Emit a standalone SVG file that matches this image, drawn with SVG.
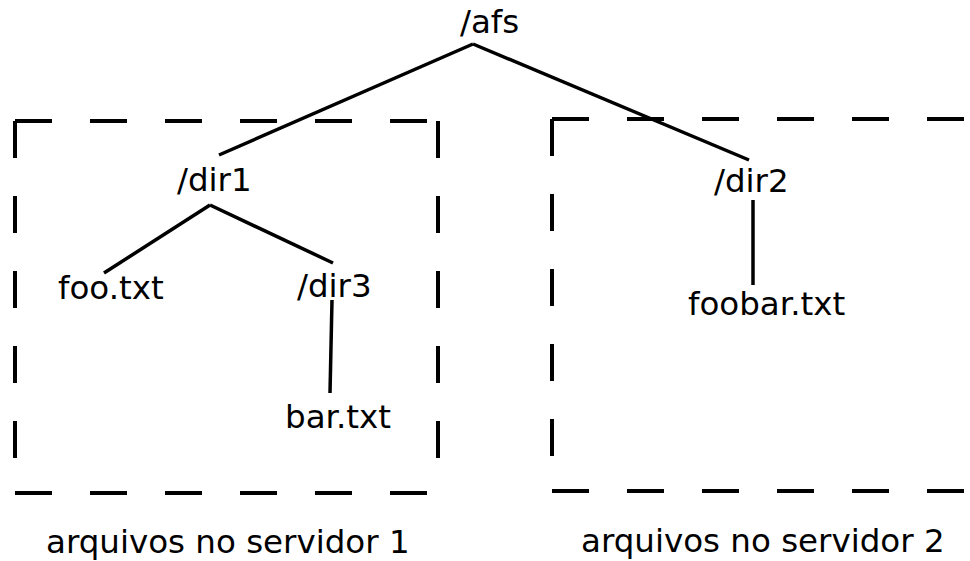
<svg xmlns="http://www.w3.org/2000/svg" width="970" height="561" viewBox="0 0 970 561">
  <style>
    .label { font-family: "DejaVu Sans", "Liberation Sans", sans-serif; font-size: 32.5px; fill: #000; }
    .edge { stroke: #000; stroke-width: 3.5; fill: none; }
    .box { stroke: #000; stroke-width: 4; fill: none; stroke-dasharray: 37 38; }
  </style>
  <rect width="970" height="561" fill="#fff"/>

  <!-- server regions -->
  <g id="server1">
    <line class="box" x1="15" y1="121" x2="438" y2="121"/>
    <line class="box" x1="15" y1="493" x2="438" y2="493"/>
    <line class="box" x1="15" y1="121" x2="15" y2="493"/>
    <line class="box" x1="438" y1="121" x2="438" y2="493"/>
    <text class="label" x="46" y="553">arquivos no servidor 1</text>
  </g>
  <g id="server2">
    <line class="box" x1="552" y1="119" x2="980" y2="119"/>
    <line class="box" x1="552" y1="491" x2="980" y2="491"/>
    <line class="box" x1="552" y1="119" x2="552" y2="491"/>
    <text class="label" x="581" y="552">arquivos no servidor 2</text>
  </g>

  <!-- tree edges -->
  <g id="connectors">
    <line class="edge" x1="473" y1="44" x2="219" y2="155"/>
    <line class="edge" x1="473" y1="44" x2="749" y2="160"/>
    <line class="edge" x1="210" y1="205" x2="104" y2="273"/>
    <line class="edge" x1="210" y1="205" x2="333" y2="263"/>
    <line class="edge" x1="332" y1="300" x2="330" y2="393"/>
    <line class="edge" x1="753" y1="200" x2="753" y2="285"/>
  </g>

  <!-- nodes -->
  <g id="afs"><text class="label" x="460" y="33">/afs</text></g>
  <g id="dir1"><text class="label" x="177" y="191">/dir1</text></g>
  <g id="dir2"><text class="label" x="714" y="192">/dir2</text></g>
  <g id="foo"><text class="label" x="58" y="299">foo.txt</text></g>
  <g id="dir3"><text class="label" x="297" y="297">/dir3</text></g>
  <g id="bar"><text class="label" x="285" y="428">bar.txt</text></g>
  <g id="foobar"><text class="label" x="688" y="315">foobar.txt</text></g>
</svg>
